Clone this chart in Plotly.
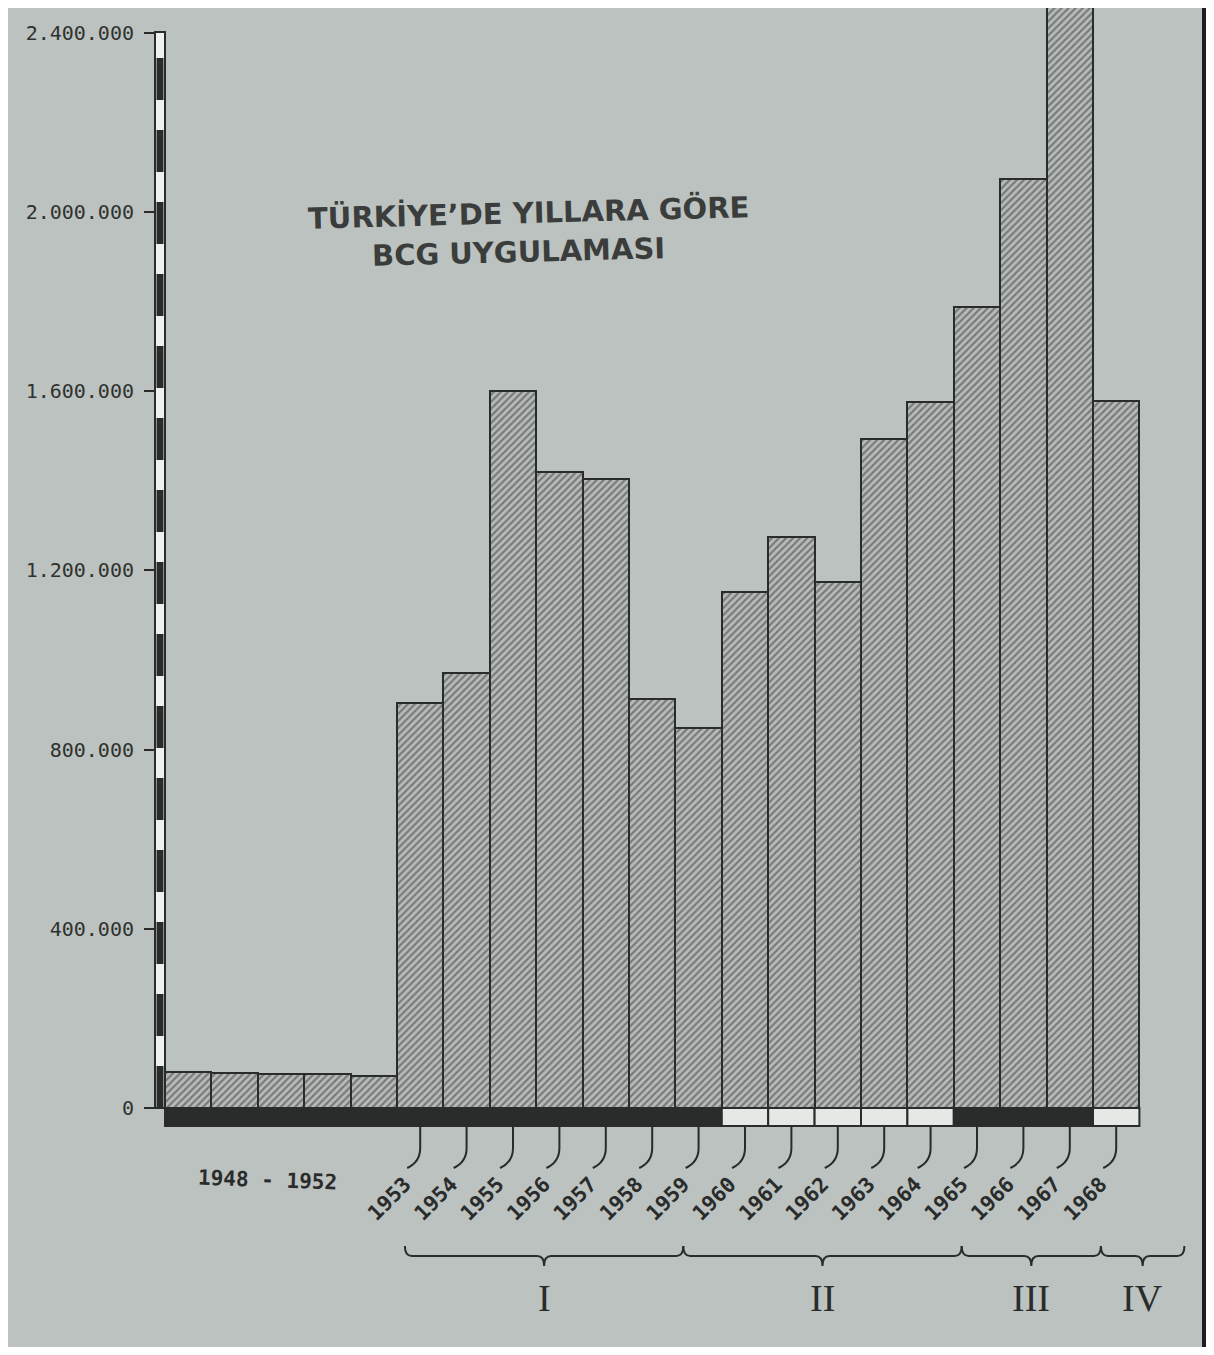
import plotly.graph_objects as go

# ---------------- data ----------------
YEARS = [1948, 1949, 1950, 1951, 1952, 1953, 1954, 1955, 1956, 1957, 1958,
         1959, 1960, 1961, 1962, 1963, 1964, 1965, 1966, 1967, 1968]
BCG = [80000, 78000, 77000, 75000, 72000, 905000, 970000, 1600000, 1420000,
       1405000, 912000, 848000, 1152000, 1275000, 1174000, 1494000, 1577000,
       1789000, 2073000, 2460000, 1579000]
LABEL_YEARS = [1953, 1954, 1955, 1956, 1957, 1958, 1959, 1960, 1961, 1962,
               1963, 1964, 1965, 1966, 1967, 1968]
GROUP_LABEL = "1948 - 1952"
GROUP_CENTER = 1950
Y_TICKS = [0, 400000, 800000, 1200000, 1600000, 2000000, 2400000]
Y_TICK_TEXT = ["0", "400.000", "800.000", "1.200.000", "1.600.000",
               "2.000.000", "2.400.000"]
STRIP_DARK = [True, True, True, True, True, True, True, True, True, True, True,
              True, False, False, False, False, False, True, True, True, False]
PERIODS = ["I", "II", "III", "IV"]
PERIOD_START = [1953, 1959, 1965, 1968]
PERIOD_END = [1959, 1965, 1968, 1969.8]
TITLE_LINES = ["TÜRKİYE’DE YILLARA GÖRE", "BCG UYGULAMASI"]

# ---------------- geometry / style ----------------
PAGE_W, PAGE_H = 1214, 1355
OFF = 8                         # browser body margin
W, H = PAGE_W - 2 * OFF, PAGE_H - 2 * OFF
PX_X = 46.4                     # pixels per year
X_LEFT = 165 - OFF              # left edge of first bar (figure px)
PX_Y = 448 / 1e6                # pixels per unit
Y0 = 1108 - OFF                 # zero row (figure px)
AXIS_X = 160 - OFF
SHIFT = 0.33                    # label offset from bar centre

xa = (YEARS[0] - 0.5) - X_LEFT / PX_X
xb = xa + W / PX_X
ymax = Y0 / PX_Y
ymin = -(H - Y0) / PX_Y


def yv(page_py):
    """data y for a page pixel row"""
    return (1108 - page_py) / PX_Y


def px(page_x):
    return (page_x - OFF) / W


def py(page_y):
    return 1 - (page_y - OFF) / H


PAPER = "#bcc2bf"
INK = "#2a2c2b"

fig = go.Figure()
fig.add_trace(go.Bar(
    x=YEARS, y=BCG, width=1,
    marker=dict(color="#aeb3b0",
                line=dict(color=INK, width=2),
                pattern=dict(shape="/", fgcolor="#353837", bgcolor="#b6bbb8",
                             size=5, solidity=0.42)),
    hoverinfo="x+y", showlegend=False,
))

shapes = []
# dark photo edge on the right
shapes.append(dict(type="line", xref="paper", yref="paper", layer="below",
                   x0=px(1204), x1=px(1204), y0=0, y1=1,
                   line=dict(color="#1e1f1e", width=4)))

# base strip under the bars
for yr, dark in zip(YEARS, STRIP_DARK):
    shapes.append(dict(type="rect", xref="x", yref="y",
                       x0=yr - 0.5, x1=yr + 0.5, y0=yv(1126), y1=0,
                       fillcolor=INK if dark else "#e6e8e6",
                       line=dict(color=INK, width=2)))

# hooks leading to year labels
for yr in LABEL_YEARS:
    shapes.append(dict(
        type="path", xref="x", yref="y",
        path=(f"M {yr},{yv(1126)} L {yr},{yv(1148)} "
              f"Q {yr},{yv(1162)} {yr - SHIFT + 0.05},{yv(1168)}"),
        line=dict(color=INK, width=2)))

# y axis strip
shapes.append(dict(type="rect", xref="paper", yref="y",
                   x0=px(155), x1=px(165), y0=0, y1=yv(32),
                   fillcolor="#eef0ee", line=dict(color=INK, width=2)))
shapes.append(dict(type="line", xref="paper", yref="y",
                   x0=px(160), x1=px(160), y0=0, y1=yv(32),
                   line=dict(color=INK, width=7, dash="42px,30px")))

# plan-period braces
annotations = []
dy = 10 / PX_Y
for lab, s, e in zip(PERIODS, PERIOD_START, PERIOD_END):
    xs, xe = s - SHIFT, e - SHIFT
    xm = (xs + xe) / 2
    yl = yv(1256)
    path = (f"M {xs},{yl + dy} Q {xs},{yl} {xs + 0.15},{yl} "
            f"L {xm - 0.15},{yl} Q {xm},{yl} {xm},{yl - dy} "
            f"Q {xm},{yl} {xm + 0.15},{yl} L {xe - 0.15},{yl} "
            f"Q {xe},{yl} {xe},{yl + dy}")
    shapes.append(dict(type="path", xref="x", yref="y", path=path,
                       line=dict(color=INK, width=2)))
    annotations.append(dict(x=xm, y=yv(1298), xref="x", yref="y",
                            xanchor="center", yanchor="middle",
                            text=lab, showarrow=False,
                            font=dict(family="Liberation Serif", size=38,
                                      color=INK)))

annotations.append(dict(x=GROUP_CENTER - 0.3, y=yv(1180), xref="x", yref="y",
                        xanchor="center", yanchor="middle",
                        text=GROUP_LABEL, showarrow=False, textangle=2,
                        font=dict(family="DejaVu Sans Mono", size=21,
                                  color=INK, weight="bold")))

# title
annotations.append(dict(x=px(528), y=py(213), xref="paper", yref="paper",
                        xanchor="center", yanchor="middle",
                        text=TITLE_LINES[0], showarrow=False, textangle=-1.5,
                        font=dict(family="DejaVu Sans", size=29,
                                  color="#3a3d3c", weight="bold")))
annotations.append(dict(x=px(518), y=py(252), xref="paper", yref="paper",
                        xanchor="center", yanchor="middle",
                        text=TITLE_LINES[1], showarrow=False, textangle=-1.5,
                        font=dict(family="DejaVu Sans", size=29,
                                  color="#3a3d3c", weight="bold")))

fig.update_layout(
    width=W, height=H,
    margin=dict(l=0, r=0, t=0, b=0),
    paper_bgcolor=PAPER,
    plot_bgcolor="rgba(0,0,0,0)",
    bargap=0,
    showlegend=False,
    shapes=shapes,
    annotations=annotations,
    xaxis=dict(range=[xa, xb], anchor="free", position=py(1167),
               showgrid=False, zeroline=False, showline=False, ticks="",
               tickvals=[y - SHIFT for y in LABEL_YEARS],
               ticktext=[str(y) for y in LABEL_YEARS],
               tickangle=-45, automargin=False,
               tickfont=dict(family="DejaVu Sans Mono", size=21, color=INK,
                             weight="bold")),
    yaxis=dict(range=[ymin, ymax], anchor="free", position=px(AXIS_X + OFF),
               showgrid=False, zeroline=False, showline=False,
               ticks="outside", ticklen=16, tickwidth=2, tickcolor=INK,
               tickvals=Y_TICKS, ticktext=Y_TICK_TEXT,
               ticklabelstandoff=6, automargin=False,
               tickfont=dict(family="DejaVu Sans Mono", size=20,
                             color="#2f3230")),
)

fig.write_html("out.html")
